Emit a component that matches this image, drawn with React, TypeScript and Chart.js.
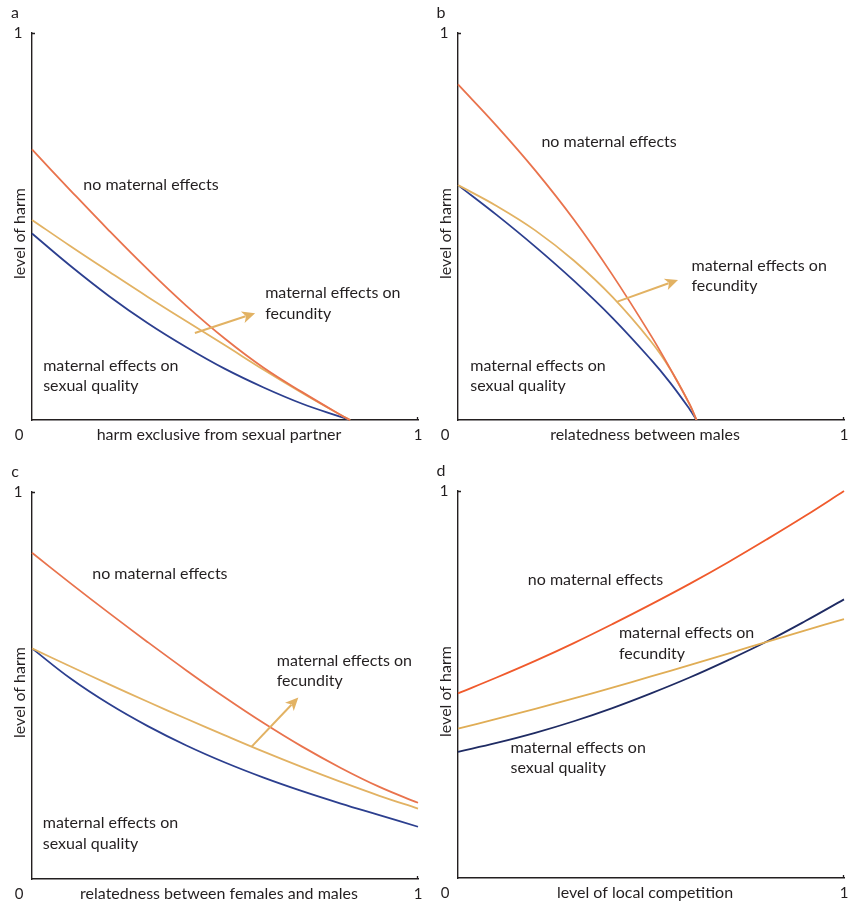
import React, { useEffect, useRef } from "react";
import { Chart, registerables } from "chart.js";

Chart.register(...registerables);

// ---------- data ----------
// panel a: harm exclusive from sexual partner
const xA = [0, 0.1, 0.2, 0.3, 0.4, 0.5, 0.6, 0.7, 0.8, 0.824];
const noMatA = [0.699, 0.593, 0.489, 0.389, 0.295, 0.21, 0.135, 0.072, 0.013, 0];
const fecA = [0.517, 0.449, 0.383, 0.318, 0.255, 0.193, 0.13, 0.07, 0.013, 0];
const sexA = [0.482, 0.398, 0.32, 0.25, 0.188, 0.132, 0.084, 0.042, 0.008, 0];

// panel b: relatedness between males
const xB = [0, 0.1, 0.2, 0.3, 0.4, 0.5, 0.55, 0.6, 0.618];
const noMatB = [0.867, 0.76, 0.645, 0.518, 0.375, 0.218, 0.132, 0.041, 0];
const fecB = [0.607, 0.553, 0.49, 0.412, 0.318, 0.203, 0.131, 0.04, 0];
const sexB = [0.607, 0.53, 0.448, 0.36, 0.264, 0.156, 0.096, 0.028, 0];

// panel c: relatedness between females and males
const xC = [0, 0.1, 0.2, 0.3, 0.4, 0.5, 0.6, 0.7, 0.8, 0.9, 1];
const noMatC = [0.843, 0.764, 0.687, 0.612, 0.539, 0.469, 0.403, 0.342, 0.287, 0.238, 0.197];
const fecC = [0.596, 0.549, 0.503, 0.458, 0.414, 0.371, 0.329, 0.289, 0.251, 0.215, 0.182];
const sexC = [0.596, 0.518, 0.452, 0.395, 0.345, 0.301, 0.262, 0.227, 0.195, 0.165, 0.135];

// panel d: level of local competition
const xD = [0, 0.1, 0.2, 0.3, 0.4, 0.5, 0.6, 0.7, 0.8, 0.9, 1];
const noMatD = [0.477, 0.518, 0.561, 0.607, 0.656, 0.707, 0.76, 0.816, 0.875, 0.936, 1.0];
const fecD = [0.386, 0.411, 0.437, 0.464, 0.492, 0.521, 0.55, 0.58, 0.61, 0.64, 0.669];
const sexD = [0.326, 0.349, 0.375, 0.405, 0.439, 0.477, 0.518, 0.563, 0.611, 0.664, 0.72];

const panelLetters = ["a", "b", "c", "d"];
const xTitles = [
  "harm exclusive from sexual partner",
  "relatedness between males",
  "relatedness between females and males",
  "level of local competition",
];
const yTitle = "level of harm";
const axisTickLabels = ["0", "1"];
const labelNoMat = ["no maternal effects"];
const labelFec = ["maternal effects on", "fecundity"];
const labelSex = ["maternal effects on", "sexual quality"];

// ---------- styles / layout ----------
const TEXT = "#231f20";
const FONT = "Lato, 'Open Sans', sans-serif";

type Panel = {
  left: number;
  top: number;
  pad: { left: number; top: number; right: number; bottom: number };
  xs: number[];
  series: number[][];
  colors: string[];
  labelPos: number[][]; // data coords of label anchors (left, first line centre)
  arrow: number[] | null; // x0,y0,x1,y1 in data coords
};

const panels: Panel[] = [
  {
    left: 0,
    top: 0,
    pad: { left: 32, top: 33, right: 7, bottom: 34 },
    xs: xA,
    series: [noMatA, fecA, sexA],
    colors: ["#e9734d", "#e2b263", "#2c3f8f"],
    labelPos: [
      [0.133, 0.607],
      [0.604, 0.328],
      [0.029, 0.14],
    ],
    arrow: [0.422, 0.225, 0.578, 0.276],
  },
  {
    left: 425,
    top: 0,
    pad: { left: 33, top: 33, right: 6, bottom: 34 },
    xs: xB,
    series: [noMatB, fecB, sexB],
    colors: ["#e9734d", "#e2b263", "#2c3f8f"],
    labelPos: [
      [0.216, 0.719],
      [0.605, 0.399],
      [0.032, 0.14],
    ],
    arrow: [0.413, 0.306, 0.57, 0.362],
  },
  {
    left: 0,
    top: 454,
    pad: { left: 32, top: 38, right: 7, bottom: 29 },
    xs: xC,
    series: [noMatC, fecC, sexC],
    colors: ["#e9734d", "#e2b263", "#2c3f8f"],
    labelPos: [
      [0.156, 0.789],
      [0.634, 0.564],
      [0.028, 0.145],
    ],
    arrow: [0.569, 0.342, 0.69, 0.469],
  },
  {
    left: 425,
    top: 454,
    pad: { left: 33, top: 37, right: 6, bottom: 30 },
    xs: xD,
    series: [noMatD, fecD, sexD],
    colors: ["#f05a2c", "#e0ad55", "#1f2b63"],
    labelPos: [
      [0.181, 0.77],
      [0.417, 0.633],
      [0.136, 0.337],
    ],
    arrow: null,
  },
];

const annotPlugin = {
  id: "annot",
  afterDatasetsDraw(chart: any, _args: any, opts: any) {
    const { ctx, chartArea } = chart;
    const xs = chart.scales.x;
    const ys = chart.scales.y;
    const idx: number = opts.index;
    const p: Panel = panels[idx];
    const { left, right, top, bottom } = chartArea;
    ctx.save();

    // small inward tick marks at axis ends
    ctx.strokeStyle = TEXT;
    ctx.lineWidth = 1.3;
    ctx.beginPath();
    ctx.moveTo(left, ys.getPixelForValue(1) + 0.5);
    ctx.lineTo(left + 3, ys.getPixelForValue(1) + 0.5);
    ctx.moveTo(xs.getPixelForValue(1) - 0.5, bottom);
    ctx.lineTo(xs.getPixelForValue(1) - 0.5, bottom - 3);
    ctx.stroke();

    ctx.fillStyle = TEXT;
    ctx.textBaseline = "middle";
    ctx.textAlign = "center";
    ctx.font = `16px ${FONT}`;
    ctx.fillText(panelLetters[idx], left - 17, top - 20);

    ctx.font = `15px ${FONT}`;
    ctx.fillText(axisTickLabels[1], left - 14, ys.getPixelForValue(1));
    ctx.fillText(axisTickLabels[0], left - 13, bottom + 15);
    ctx.fillText(axisTickLabels[1], xs.getPixelForValue(1), bottom + 15);

    // x title
    ctx.font = `16px ${FONT}`;
    ctx.fillText(xTitles[idx], (left + right) / 2 - 6, bottom + 15);

    // y title
    ctx.save();
    ctx.translate(left - 12, (top + bottom) / 2 + 7);
    ctx.rotate(-Math.PI / 2);
    ctx.fillText(yTitle, 0, 0);
    ctx.restore();

    // curve labels
    ctx.textAlign = "left";
    const groups = [labelNoMat, labelFec, labelSex];
    groups.forEach((lines, gi) => {
      const [lx, ly] = p.labelPos[gi];
      const px = xs.getPixelForValue(lx);
      const py = ys.getPixelForValue(ly);
      lines.forEach((t, li) => ctx.fillText(t, px, py + li * 20.5));
    });

    // arrow
    if (p.arrow) {
      const [ax0, ay0, ax1, ay1] = p.arrow;
      const x0 = xs.getPixelForValue(ax0);
      const y0 = ys.getPixelForValue(ay0);
      const x1 = xs.getPixelForValue(ax1);
      const y1 = ys.getPixelForValue(ay1);
      const ang = Math.atan2(y1 - y0, x1 - x0);
      const headLen = 13;
      const headW = 6;
      const bx = x1 - headLen * Math.cos(ang);
      const by = y1 - headLen * Math.sin(ang);
      ctx.strokeStyle = p.colors[1];
      ctx.fillStyle = p.colors[1];
      ctx.lineWidth = 2;
      ctx.beginPath();
      ctx.moveTo(x0, y0);
      ctx.lineTo(bx + 3 * Math.cos(ang), by + 3 * Math.sin(ang));
      ctx.stroke();
      ctx.beginPath();
      ctx.moveTo(x1, y1);
      ctx.lineTo(bx - headW * Math.sin(ang), by + headW * Math.cos(ang));
      ctx.lineTo(bx + 3.5 * Math.cos(ang), by + 3.5 * Math.sin(ang));
      ctx.lineTo(bx + headW * Math.sin(ang), by - headW * Math.cos(ang));
      ctx.closePath();
      ctx.fill();
    }
    ctx.restore();
  },
};

function PanelChart({ index }: { index: number }) {
  const ref = useRef<HTMLCanvasElement | null>(null);
  const p = panels[index];
  useEffect(() => {
    if (!ref.current) return;
    const names = ["no maternal effects", "maternal effects on fecundity", "maternal effects on sexual quality"];
    const chart = new Chart(ref.current, {
      type: "line",
      data: {
        datasets: p.series.map((vals, si) => ({
          label: names[si],
          data: p.xs.map((x, i) => ({ x, y: vals[i] })),
          borderColor: p.colors[si],
          borderWidth: 1.8,
          pointRadius: 0,
          fill: false,
          tension: 0.4,
          clip: 3,
        })),
      },
      options: {
        animation: false,
        responsive: false,
        devicePixelRatio: 1,
        layout: { padding: p.pad },
        plugins: {
          legend: { display: false },
          tooltip: { enabled: false },
          annot: { index },
        } as any,
        scales: {
          x: {
            type: "linear",
            min: 0,
            max: 1,
            grid: { display: false, drawTicks: false },
            ticks: { display: false },
            border: { display: true, color: TEXT, width: 1.4 },
          },
          y: {
            type: "linear",
            min: 0,
            max: 1,
            grid: { display: false, drawTicks: false },
            ticks: { display: false },
            border: { display: true, color: TEXT, width: 1.4 },
          },
        },
      },
      plugins: [annotPlugin],
    });
    return () => chart.destroy();
  }, [index]);
  return (
    <div style={{ position: "absolute", left: p.left, top: p.top, width: 425, height: 454 }}>
      <canvas ref={ref} width={425} height={454} style={{ display: "block" }} />
    </div>
  );
}

export default function App() {
  return (
    <div style={{ position: "absolute", left: 0, top: 0, width: 850, height: 908, background: "#fff" }}>
      {panels.map((_, i) => (
        <PanelChart key={i} index={i} />
      ))}
    </div>
  );
}
